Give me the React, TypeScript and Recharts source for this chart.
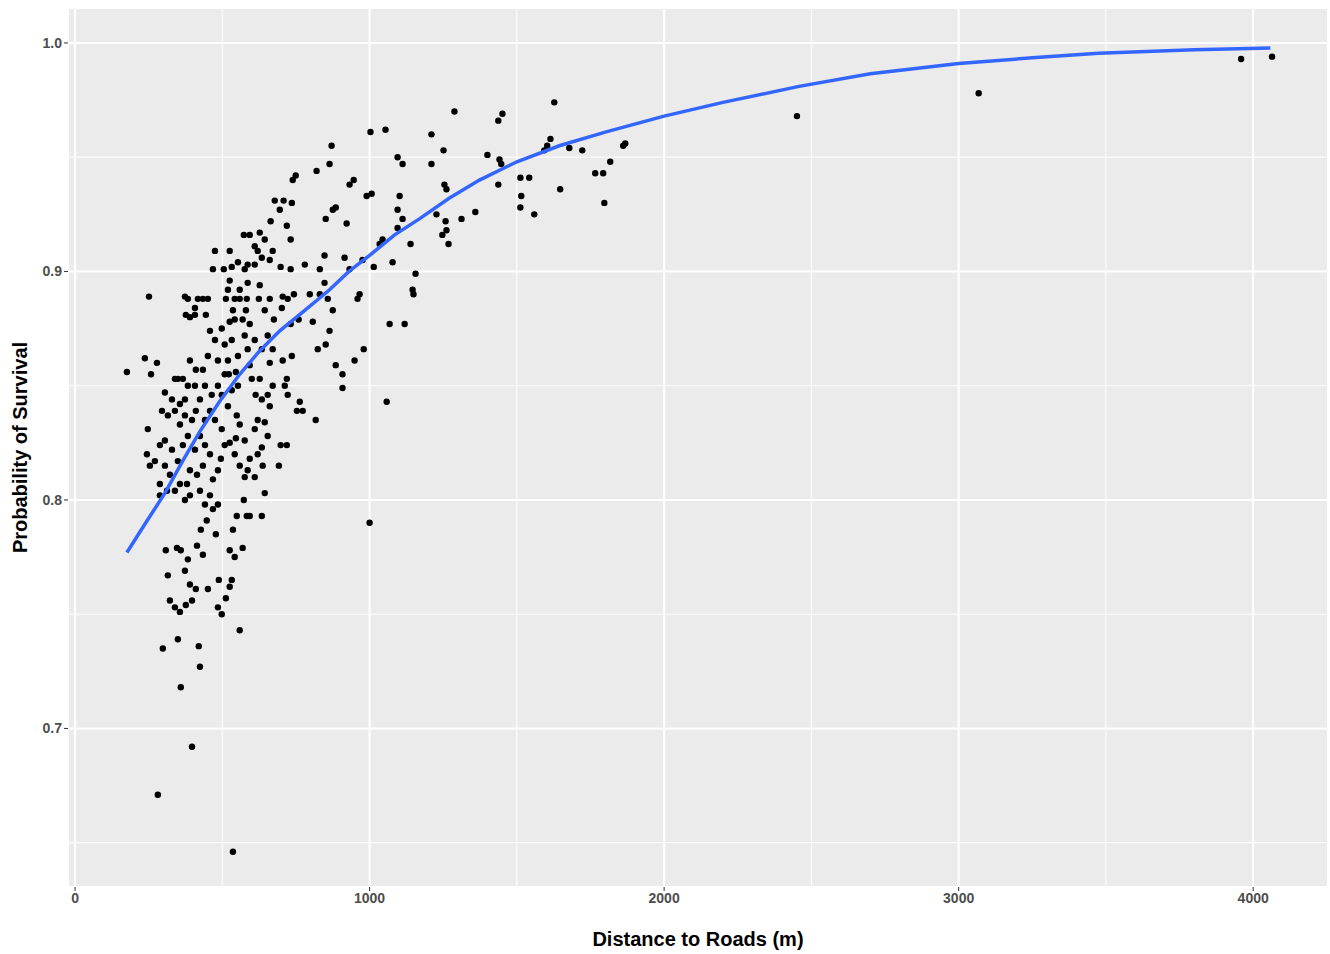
import React from 'react';
import {
  ComposedChart,
  Scatter,
  XAxis,
  YAxis,
  CartesianGrid,
  ReferenceLine,
} from 'recharts';

// observed survival by distance (m)
const POINTS: [number, number][] = [
  [176, 0.856], [251, 0.889], [281, 0.671], [536, 0.646], [397, 0.692], [359, 0.718], [298, 0.735], [420, 0.736],
  [424, 0.727], [349, 0.739], [559, 0.743], [1000, 0.79], [1058, 0.843], [2451, 0.968], [3068, 0.978], [3959, 0.993],
  [4064, 0.994], [1627, 0.974], [1288, 0.97], [1451, 0.969], [1437, 0.966], [1054, 0.962], [1003, 0.961], [1210, 0.96],
  [871, 0.955], [1603, 0.955], [1614, 0.958], [1593, 0.953], [1678, 0.954], [1722, 0.953], [1817, 0.948], [1868, 0.956],
  [1861, 0.955], [1766, 0.943], [1793, 0.943], [1797, 0.93], [1647, 0.936], [1559, 0.925], [1512, 0.928], [1512, 0.941],
  [1542, 0.941], [1515, 0.933], [1437, 0.938], [1441, 0.949], [1400, 0.951], [1447, 0.947], [1254, 0.938], [1261, 0.936],
  [1210, 0.947], [1251, 0.953], [1359, 0.926], [1312, 0.923], [1258, 0.922], [1261, 0.918], [1268, 0.912], [1247, 0.916],
  [1227, 0.925], [1119, 0.877], [1068, 0.877], [1146, 0.892], [1149, 0.89], [1156, 0.899], [1139, 0.912], [1095, 0.927],
  [1102, 0.933], [1112, 0.923], [1095, 0.95], [1112, 0.947], [1095, 0.919], [1007, 0.934], [990, 0.933], [1034, 0.912],
  [1044, 0.914], [1078, 0.904], [1014, 0.902], [976, 0.905], [966, 0.89], [959, 0.888], [980, 0.866], [949, 0.861],
  [885, 0.859], [908, 0.855], [908, 0.849], [864, 0.874], [851, 0.868], [875, 0.883], [858, 0.888], [831, 0.89],
  [847, 0.895], [831, 0.901], [847, 0.907], [851, 0.923], [875, 0.927], [885, 0.928], [922, 0.921], [932, 0.938],
  [946, 0.94], [864, 0.947], [820, 0.944], [915, 0.906], [932, 0.901], [780, 0.903], [797, 0.89], [807, 0.878],
  [824, 0.866], [817, 0.835], [773, 0.839], [753, 0.839], [763, 0.843], [722, 0.846], [712, 0.85], [719, 0.853],
  [736, 0.863], [749, 0.942], [736, 0.93], [719, 0.92], [732, 0.914], [678, 0.931], [671, 0.909], [661, 0.905],
  [698, 0.902], [732, 0.901], [743, 0.89], [722, 0.888], [702, 0.884], [675, 0.879], [654, 0.872], [634, 0.866],
  [671, 0.866], [661, 0.86], [732, 0.877], [759, 0.879], [705, 0.889], [661, 0.888], [644, 0.883], [624, 0.888],
  [627, 0.894], [610, 0.903], [620, 0.909], [644, 0.914], [634, 0.906], [644, 0.834], [654, 0.828], [634, 0.823],
  [644, 0.803], [634, 0.793], [610, 0.831], [593, 0.818], [586, 0.813], [576, 0.826], [613, 0.846], [600, 0.853],
  [593, 0.859], [586, 0.866], [576, 0.872], [569, 0.879], [580, 0.883], [583, 0.888], [586, 0.895], [559, 0.892],
  [576, 0.901], [593, 0.916], [573, 0.916], [553, 0.904], [532, 0.902], [525, 0.896], [542, 0.888], [536, 0.883],
  [525, 0.878], [532, 0.87], [553, 0.863], [546, 0.856], [553, 0.85], [532, 0.848], [519, 0.841], [549, 0.837],
  [559, 0.833], [546, 0.827], [525, 0.825], [542, 0.82], [559, 0.815], [576, 0.81], [573, 0.8], [583, 0.793],
  [593, 0.793], [549, 0.793], [536, 0.787], [525, 0.778], [542, 0.775], [569, 0.779], [532, 0.765], [525, 0.762],
  [512, 0.757], [498, 0.75], [485, 0.753], [488, 0.765], [478, 0.785], [485, 0.798], [468, 0.796], [458, 0.802],
  [468, 0.809], [485, 0.813], [495, 0.818], [508, 0.824], [498, 0.831], [475, 0.835], [458, 0.839], [464, 0.846],
  [485, 0.85], [508, 0.855], [519, 0.861], [508, 0.868], [498, 0.875], [512, 0.888], [519, 0.892], [505, 0.901],
  [525, 0.909], [475, 0.909], [468, 0.901], [451, 0.888], [444, 0.881], [458, 0.874], [451, 0.863], [434, 0.857],
  [441, 0.85], [424, 0.844], [410, 0.839], [441, 0.835], [424, 0.828], [441, 0.824], [458, 0.82], [434, 0.815],
  [414, 0.811], [424, 0.804], [441, 0.798], [447, 0.791], [427, 0.787], [414, 0.78], [434, 0.776], [451, 0.761],
  [410, 0.761], [390, 0.763], [373, 0.769], [383, 0.774], [397, 0.756], [376, 0.754], [356, 0.751], [339, 0.753],
  [322, 0.756], [315, 0.767], [308, 0.778], [346, 0.779], [359, 0.778], [373, 0.8], [390, 0.802], [380, 0.807],
  [356, 0.807], [339, 0.804], [322, 0.811], [312, 0.804], [305, 0.815], [329, 0.822], [349, 0.817], [366, 0.824],
  [383, 0.828], [397, 0.835], [373, 0.837], [356, 0.842], [373, 0.844], [366, 0.853], [383, 0.85], [407, 0.85],
  [410, 0.857], [390, 0.861], [373, 0.889], [383, 0.888], [376, 0.881], [390, 0.88], [407, 0.884], [417, 0.888],
  [407, 0.881], [434, 0.888], [349, 0.853], [339, 0.839], [315, 0.837], [305, 0.826], [288, 0.824], [271, 0.817],
  [254, 0.815], [247, 0.831], [244, 0.82], [295, 0.839], [329, 0.844], [288, 0.807], [288, 0.802], [237, 0.862],
  [258, 0.855], [278, 0.86], [305, 0.847], [339, 0.853], [356, 0.833], [407, 0.822], [390, 0.813], [485, 0.861],
  [475, 0.87], [498, 0.846], [522, 0.855], [542, 0.879], [559, 0.888], [593, 0.877], [610, 0.87], [627, 0.853],
  [634, 0.844], [620, 0.835], [637, 0.815], [610, 0.81], [620, 0.82], [661, 0.841], [671, 0.85], [698, 0.824],
  [692, 0.815], [719, 0.824], [705, 0.861], [654, 0.846], [695, 0.927], [708, 0.931], [739, 0.94], [627, 0.917],
  [586, 0.903], [610, 0.911], [664, 0.922],
];

// fitted smooth
const FIT: [number, number][] = [
  [176, 0.777], [240, 0.790], [305, 0.803], [365, 0.817], [424, 0.830], [490, 0.843], [559, 0.855], [625, 0.865],
  [695, 0.874], [780, 0.883], [864, 0.892], [930, 0.900], [1000, 0.907], [1085, 0.916], [1169, 0.923],
  [1270, 0.932], [1373, 0.940], [1500, 0.948], [1644, 0.955], [1800, 0.961], [2000, 0.968], [2200, 0.974],
  [2458, 0.981], [2700, 0.9865], [3000, 0.991], [3250, 0.9935], [3475, 0.9955], [3800, 0.997], [4058, 0.9978],
];

const X_TICKS = [0, 1000, 2000, 3000, 4000];
const X_MINOR = [500, 1500, 2500, 3500];
const Y_TICKS = [0.7, 0.8, 0.9, 1.0];
const Y_MINOR = [0.65, 0.75, 0.85, 0.95];

const pts = POINTS.map(([x, y]) => ({ x, y }));
const fit = FIT.map(([x, y]) => ({ x, y }));

const tickStyle = { fill: '#4D4D4D', fontSize: 14, fontWeight: 'bold' as const };
const titleStyle = { fill: '#000', fontSize: 20, fontWeight: 'bold' as const };

export default function App() {
  return (
    <div style={{ position: 'absolute', left: 0, top: 0, fontFamily: 'Liberation Sans, Arial, sans-serif' }}>
      <ComposedChart width={1330} height={954} margin={{ top: 8, right: 2, bottom: 0, left: 18 }}>
        <CartesianGrid fill="#EBEBEB" stroke="#FFFFFF" strokeWidth={2} />
        {X_MINOR.map((v) => (
          <ReferenceLine key={'x' + v} x={v} stroke="#FFFFFF" strokeWidth={1} />
        ))}
        {Y_MINOR.map((v) => (
          <ReferenceLine key={'y' + v} y={v} stroke="#FFFFFF" strokeWidth={1} />
        ))}
        <XAxis
          type="number"
          dataKey="x"
          domain={[-24, 4254]}
          ticks={X_TICKS}
          allowDataOverflow
          height={67}
          axisLine={false}
          tickLine={{ stroke: '#333' }}
          tickSize={4}
          tick={tickStyle}
          label={{ value: 'Distance to Roads (m)', position: 'insideBottom', offset: 8, style: titleStyle }}
        />
        <YAxis
          type="number"
          dataKey="y"
          domain={[0.6306, 1.0153]}
          ticks={Y_TICKS}
          tickFormatter={(v: number) => v.toFixed(1)}
          allowDataOverflow
          width={50}
          axisLine={false}
          tickLine={{ stroke: '#333' }}
          tickSize={4}
          tick={tickStyle}
          label={{ value: 'Probability of Survival', angle: -90, position: 'insideLeft', offset: 2, style: { ...titleStyle, textAnchor: 'middle' } }}
        />
        <Scatter data={pts} fill="#000" shape={(p: any) => <circle cx={p.cx} cy={p.cy} r={3.2} fill="#000" />} isAnimationActive={false} />
        <Scatter
          data={fit}
          line={{ stroke: '#3366FF', strokeWidth: 3.5 }}
          lineType="joint"
          shape={() => null}
          isAnimationActive={false}
        />
      </ComposedChart>
    </div>
  );
}
